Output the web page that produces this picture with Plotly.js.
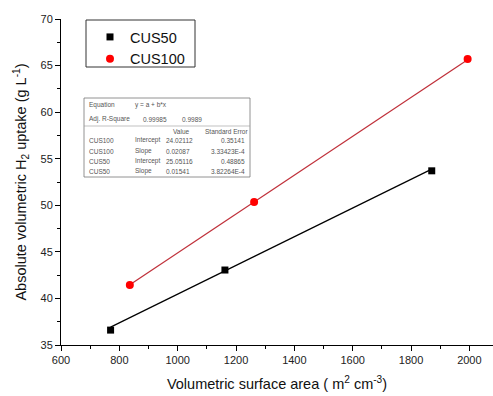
<!DOCTYPE html>
<html>
<head>
<meta charset="utf-8">
<script src="https://cdn.plot.ly/plotly-3.0.1.min.js"></script>
<style>
html,body{margin:0;padding:0;background:#fff;}
#chart{width:493px;height:396px;}
</style>
</head>
<body>
<div id="chart"></div>
<script>
// ---- data ----
var seriesNames = ["CUS50", "CUS100"];
var cus50X = [770, 1162, 1871];
var cus50Y = [36.6, 43.05, 53.7];
var cus100X = [836, 1262, 1994];
var cus100Y = [41.45, 50.35, 65.7];
// linear fit parameters (from inset table)
var fitIntercept = [25.05116, 24.02112];
var fitSlope = [0.01541, 0.02087];
// inset table text
var tableRows = [
  ["Equation", "y = a + b*x", "", ""],
  ["Adj. R-Square", "0.99985", "0.9989", ""],
  ["", "", "Value", "Standard Error"],
  ["CUS100", "Intercept", "24.02112", "0.35141"],
  ["CUS100", "Slope", "0.02087", "3.33423E-4"],
  ["CUS50", "Intercept", "25.05116", "0.48865"],
  ["CUS50", "Slope", "0.01541", "3.82264E-4"]
];

// ---- geometry helpers (plot area in px) ----
var L = 61, R = 493, T = 19, B = 345;
function px(x){ return (x - L) / (R - L); }
function py(y){ return (B - y) / (B - T); }

function fitLine(xs, a, b){
  var x0 = Math.min.apply(null, xs), x1 = Math.max.apply(null, xs);
  return {x: [x0, x1], y: [a + b*x0, a + b*x1]};
}
var f50 = fitLine(cus50X, fitIntercept[0], fitSlope[0]);
var f100 = fitLine(cus100X, fitIntercept[1], fitSlope[1]);

var traces = [
  {x: f50.x, y: f50.y, mode: "lines", line: {color: "#000", width: 1.2}, showlegend: false, hoverinfo: "skip"},
  {x: f100.x, y: f100.y, mode: "lines", line: {color: "#c0303a", width: 1.2}, showlegend: false, hoverinfo: "skip"},
  {x: cus50X, y: cus50Y, mode: "markers", name: seriesNames[0],
   marker: {symbol: "square", size: 7, color: "#000"}},
  {x: cus100X, y: cus100Y, mode: "markers", name: seriesNames[1],
   marker: {symbol: "circle", size: 8, color: "#ff0000"}}
];

// table annotations
var colX = [87, 133, 164, 247];
var rowY = [105, 119, 131, 140, 151, 161, 171];
var anns = [];
tableRows.forEach(function(row, i){
  row.forEach(function(txt, j){
    if (!txt) return;
    var xpos = colX[j], anchor = "left";
    if (i === 1 && j === 1) xpos = 141;
    if (i === 1 && j === 2) xpos = 180;
    if (i === 2 && j === 2) xpos = 171;
    if (i === 2 && j === 3) { xpos = 203; }
    if (i >= 3 && j === 3) { anchor = "right"; }
    anns.push({xref: "paper", yref: "paper", x: px(xpos), y: py(rowY[i]),
      xanchor: anchor, yanchor: "middle", text: txt, showarrow: false,
      font: {family: "Arial, Liberation Sans, sans-serif", size: 6.5, color: "#555"}});
  });
});

var shapes = [
  // legend box
  {type: "rect", xref: "paper", yref: "paper", x0: px(86), x1: px(195), y0: py(20), y1: py(67),
   line: {color: "#333", width: 1}},
  // table box
  {type: "rect", xref: "paper", yref: "paper", x0: px(84), x1: px(250), y0: py(98), y1: py(177),
   line: {color: "#777", width: 0.8}},
  {type: "line", xref: "paper", yref: "paper", x0: px(84), x1: px(250), y0: py(126), y1: py(126),
   line: {color: "#999", width: 0.6}}
];

var font = {family: "Arial, Liberation Sans, sans-serif", color: "#222"};

var layout = {
  width: 493, height: 396,
  margin: {l: L, r: 493 - R, t: T, b: 396 - B, pad: 0},
  paper_bgcolor: "#fff", plot_bgcolor: "#fff",
  font: font,
  showlegend: true,
  legend: {x: px(90), y: py(21), xanchor: "left", yanchor: "top",
    bgcolor: "rgba(0,0,0,0)", borderwidth: 0, itemwidth: 30,
    font: {family: "Arial, Liberation Sans, sans-serif", size: 14.5, color: "#111"},
    tracegroupgap: 0},
  xaxis: {
    range: [600, 2081], showgrid: false, zeroline: false, automargin: true,
    showline: true, linecolor: "#000", linewidth: 1,
    ticks: "outside", ticklen: 5, tickcolor: "#000", dtick: 200, tick0: 600,
    minor: {dtick: 100, ticks: "outside", ticklen: 3, tickcolor: "#000"},
    tickfont: {size: 11, color: "#222"},
    title: {text: "Volumetric surface area ( m<sup>2</sup> cm<sup>-3</sup>)",
      font: {size: 14.5, color: "#111"}, standoff: 13}
  },
  yaxis: {
    range: [35, 70], showgrid: false, zeroline: false, automargin: true,
    showline: true, linecolor: "#000", linewidth: 1,
    ticks: "outside", ticklen: 5, tickcolor: "#000", dtick: 5, tick0: 35,
    minor: {dtick: 2.5, ticks: "outside", ticklen: 3, tickcolor: "#000"},
    tickfont: {size: 11, color: "#222"},
    title: {text: "Absolute volumetric H<sub>2</sub> uptake (g L<sup>-1</sup>)",
      font: {size: 14.5, color: "#111"}, standoff: 10}
  },
  shapes: shapes,
  annotations: anns
};

Plotly.newPlot("chart", traces, layout, {displayModeBar: false, staticPlot: true});
</script>
</body>
</html>
